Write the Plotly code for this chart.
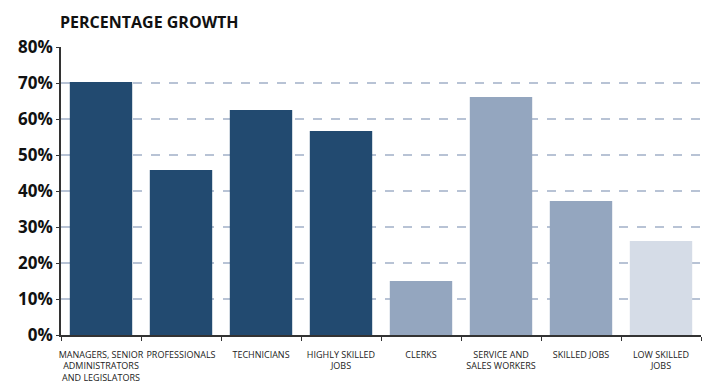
import plotly.graph_objects as go

categories = ["MANAGERS, SENIOR<br>ADMINISTRATORS<br>AND LEGISLATORS", "PROFESSIONALS", "TECHNICIANS",
              "HIGHLY SKILLED<br>JOBS", "CLERKS", "SERVICE AND<br>SALES WORKERS", "SKILLED JOBS",
              "LOW SKILLED<br>JOBS"]
values = [70.3, 45.8, 62.5, 56.7, 15.0, 66.1, 37.2, 26.1]
colors = ["#224a70", "#224a70", "#224a70", "#224a70", "#94a6bf", "#94a6bf", "#94a6bf", "#d5dce7"]
tick_vals = [0, 10, 20, 30, 40, 50, 60, 70, 80]
tick_text = [f"{v}%" for v in tick_vals]

fig = go.Figure(go.Bar(x=categories, y=values, marker=dict(color=colors, line=dict(width=0))))

fig.update_layout(
    width=709, height=389,
    margin=dict(l=61, r=8, t=47, b=54),
    paper_bgcolor="white", plot_bgcolor="white",
    bargap=0.22,
    showlegend=False,
    title=dict(text="<b>PERCENTAGE GROWTH</b>", x=60/709, xanchor="left", y=1-22/389, yanchor="middle",
               font=dict(family="Open Sans", size=16, color="#111")),
    font=dict(family="Open Sans"),
)
fig.update_xaxes(
    tickson="boundaries", ticks="outside", ticklen=4, tickcolor="#333",
    showline=True, linecolor="#333", linewidth=1.5,
    tickfont=dict(size=9, color="#222"), tickangle=0, showgrid=False,
    ticklabelstandoff=10, automargin=False,
)
fig.update_yaxes(
    range=[0, 80], tickvals=tick_vals, ticktext=[f"<b>{t}</b>" for t in tick_text],
    ticks="outside", ticklen=3, tickcolor="#333",
    showline=True, linecolor="#333", linewidth=1.5,
    showgrid=True, gridcolor="#b8c3d5", griddash="dash", gridwidth=1.5,
    tickfont=dict(size=17, color="#111"), zeroline=False, automargin=False,
)

fig.write_html("out.html")
